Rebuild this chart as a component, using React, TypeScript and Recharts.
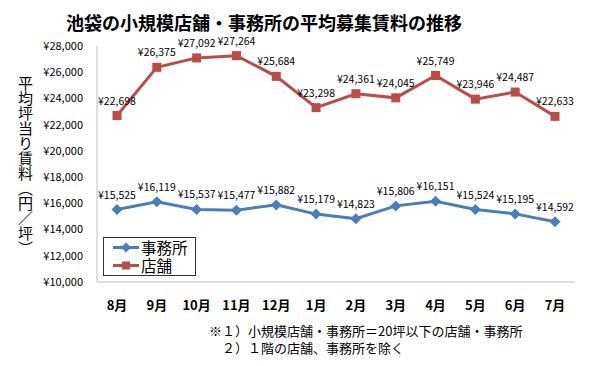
import React from 'react';
import { LineChart, Line, XAxis, YAxis, LabelList } from 'recharts';

const months = ['8月', '9月', '10月', '11月', '12月', '1月', '2月', '3月', '4月', '5月', '6月', '7月'];
const officeRent = [15525, 16119, 15537, 15477, 15882, 15179, 14823, 15806, 16151, 15524, 15195, 14592];
const storeRent = [22698, 26375, 27092, 27264, 25684, 23298, 24361, 24045, 25749, 23946, 24487, 22633];
const yTicks = [10000, 12000, 14000, 16000, 18000, 20000, 22000, 24000, 26000, 28000];

const data = months.map((m, i) => ({ month: m, office: officeRent[i], store: storeRent[i] }));

const BLUE = '#4A7EBB';
const RED = '#BE4B48';
const JP = '"Noto Sans CJK JP", "Noto Sans", sans-serif';

const yen = (v: any) => '¥' + Number(v).toLocaleString('en-US');

const Diamond = (props: any) => {
  const { cx, cy } = props;
  if (cx == null || cy == null) return null;
  const r = 5.5;
  return <polygon points={`${cx},${cy - r} ${cx + r},${cy} ${cx},${cy + r} ${cx - r},${cy}`} fill={BLUE} />;
};

const Square = (props: any) => {
  const { cx, cy } = props;
  if (cx == null || cy == null) return null;
  const s = 9;
  return <rect x={cx - s / 2} y={cy - s / 2} width={s} height={s} fill={RED} />;
};

export default function App() {
  return (
    <div style={{ position: 'absolute', left: 0, top: 0, width: 600, height: 366, background: '#fff', fontFamily: JP }}>
      <div style={{ position: 'absolute', left: 0, width: 528, top: 13, height: 19, overflow: 'visible', textAlign: 'center', fontSize: 18, fontWeight: 'bold', lineHeight: '19px', color: '#000' }}>
        池袋の小規模店舗・事務所の平均募集賃料の推移
      </div>
      <div style={{ position: 'absolute', left: 17, top: 76, width: 16, fontSize: 15, lineHeight: '16px', writingMode: 'vertical-rl' as any, color: '#000' }}>
        平均坪当り賃料（円／坪）
      </div>
      <LineChart width={600} height={366} data={data} margin={{ top: 46, right: 25, bottom: 54, left: 0 }}>
        <XAxis
          dataKey="month"
          height={30}
          padding={{ left: 20, right: 20 }}
          tickLine={false}
          axisLine={{ stroke: '#BFBFBF' }}
          tickMargin={13}
          tick={{ fontSize: 13, fontWeight: 'bold', fill: '#000', fontFamily: JP }}
          interval={0}
        />
        <YAxis
          width={97}
          domain={[10000, 28000]}
          ticks={yTicks}
          tickFormatter={yen}
          tickLine={false}
          axisLine={{ stroke: '#BFBFBF' }}
          tickMargin={8}
          tick={{ fontSize: 11, fill: '#000', fontFamily: JP }}
          interval={0}
        />
        <Line dataKey="store" stroke={RED} strokeWidth={3} dot={<Square />} activeDot={false} isAnimationActive={false}>
          <LabelList dataKey="store" position="top" offset={11} formatter={yen} style={{ fontSize: 10.5, fill: '#000', fontFamily: JP }} />
        </Line>
        <Line dataKey="office" stroke={BLUE} strokeWidth={3} dot={<Diamond />} activeDot={false} isAnimationActive={false}>
          <LabelList dataKey="office" position="top" offset={11} formatter={yen} style={{ fontSize: 10.5, fill: '#000', fontFamily: JP }} />
        </Line>
      </LineChart>
      <div style={{ position: 'absolute', left: 103, top: 237, width: 93, height: 39, boxSizing: 'border-box', border: '1px solid #333', background: '#fff' }}>
        {[
          { name: '事務所', color: BLUE, shape: 'diamond' },
          { name: '店舗', color: RED, shape: 'square' },
        ].map((e, i) => (
          <div key={e.name} style={{ position: 'absolute', left: 8, top: 1 + i * 18, height: 17, display: 'flex', alignItems: 'center' }}>
            <svg width={28} height={17} style={{ display: 'block' }}>
              <line x1={1} y1={8.5} x2={27} y2={8.5} stroke={e.color} strokeWidth={3} />
              {e.shape === 'diamond' ? (
                <polygon points="14,3.5 19,8.5 14,13.5 9,8.5" fill={e.color} />
              ) : (
                <rect x={10} y={4.5} width={8} height={8} fill={e.color} />
              )}
            </svg>
            <div style={{ fontSize: 15.5, lineHeight: '17px', height: 17, marginLeft: 1, color: '#000' }}>{e.name}</div>
          </div>
        ))}
      </div>
      <div style={{ position: 'absolute', left: 209, top: 322, fontSize: 13, lineHeight: '17px', color: '#000', whiteSpace: 'pre' }}>
        {'※１）小規模店舗・事務所＝20坪以下の店舗・事務所\n　２）１階の店舗、事務所を除く'}
      </div>
    </div>
  );
}
